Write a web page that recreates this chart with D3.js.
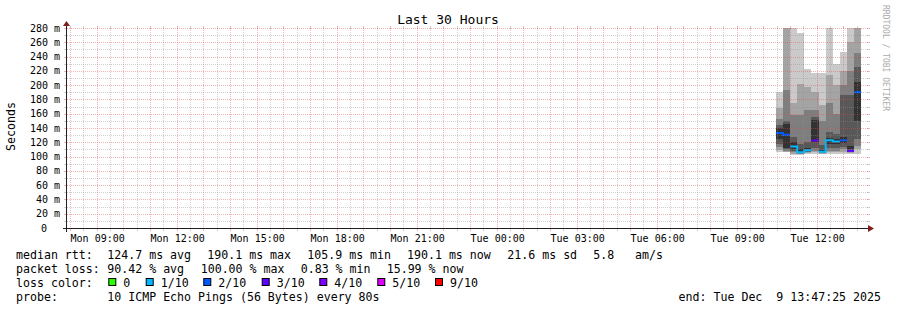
<!DOCTYPE html>
<html><head><meta charset="utf-8">
<script src="https://cdn.jsdelivr.net/npm/d3@7"></script>
<style>
html,body{margin:0;padding:0;background:#fff;}
svg{display:block;}
text{font-family:"DejaVu Sans Mono",monospace;fill:#000;}
</style>
</head><body>
<svg id="c" width="897" height="310"></svg>
<script>
// ---------------- data ----------------
const title = "Last 30 Hours";
const yLabel = "Seconds";
const watermark = "RRDTOOL / TOBI OETIKER";
const timeDomain = ["2025-12-08T07:51", "2025-12-09T13:51"];
const yDomain = [0, 280];
const yTicks = [0, 20, 40, 60, 80, 100, 120, 140, 160, 180, 200, 220, 240, 260, 280];
const yTickLabels = ["0", "20 m", "40 m", "60 m", "80 m", "100 m", "120 m", "140 m", "160 m", "180 m", "200 m", "220 m", "240 m", "260 m", "280 m"];
const xLabelTimes = ["2025-12-08T09:00", "2025-12-08T12:00", "2025-12-08T15:00", "2025-12-08T18:00", "2025-12-08T21:00",
                     "2025-12-09T00:00", "2025-12-09T03:00", "2025-12-09T06:00", "2025-12-09T09:00", "2025-12-09T12:00"];
const xLabels = ["Mon 09:00", "Mon 12:00", "Mon 15:00", "Mon 18:00", "Mon 21:00",
                 "Tue 00:00", "Tue 03:00", "Tue 06:00", "Tue 09:00", "Tue 12:00"];
// consolidated 16-minute steps (edges)
const stepEdges = ["2025-12-09T10:26", "2025-12-09T10:42", "2025-12-09T10:58", "2025-12-09T11:14", "2025-12-09T11:30",
                   "2025-12-09T11:46", "2025-12-09T12:02", "2025-12-09T12:18", "2025-12-09T12:34", "2025-12-09T12:50",
                   "2025-12-09T13:06", "2025-12-09T13:22", "2025-12-09T13:38"];
// sorted ping rtts per step (ms)
const ping1  = [106, 106, 102, 102, 104, 104, 103, 104, 104, 104, 103, 104];
const ping2  = [109, 107, 104, 103, 105, 106, 104, 106, 106, 107, 105, 110];
const ping3  = [113, 108, 106, 104, 106, 108, 105, 108, 108, 110, 107, 115];
const ping4  = [118, 110, 108, 105, 107, 112, 106, 112, 112, 114, 109, 125];
const ping5  = [124, 112, 110, 106, 108, 120, 106, 118, 117, 119, 111, 150];
const ping6  = [140, 145, 120, 110, 112, 151, 109, 126, 125, 127, 115, 205];
const ping7  = [144, 150, 128, 118, 120, 155, 116, 135, 132, 186, 186, 225];
const ping8  = [152, 193, 158, 158, 165, 165, 150, 175, 160, 200, 220, 245];
const ping9  = [168, 300, 175, 202, 198, 190, 172, 214, 200, 220, 260, 300];
const ping10 = [190, 300, 300, 273, 222, 217, 217, 300, 230, 247, 300, 300];
const medianRtt = [133, 130.6, 114, 105.9, 108.7, 122.5, 106.8, 123, 121, 122.7, 108, 190.1];
const lossCount = [2, 2, 1, 1, 1, 3, 1, 1, 1, 2, 3, 2];
const lossLevels = [0, 1, 2, 3, 4, 5, 9];
const lossLabels = ["0", "1/10", "2/10", "3/10", "4/10", "5/10", "9/10"];
const lossColors = ["#26ff00", "#00b8ff", "#0059ff", "#5e00ff", "#7e00ff", "#dd00ff", "#ff0000"];
const smokeColors = ["#cacaca", "#a4a4a4", "#7e7e7e", "#585858", "#323232"];
const legendRtt = [["median rtt:", 16], ["124.7 ms avg", 107.3], ["190.1 ms max", 207.3], ["105.9 ms min", 307.3],
                   ["190.1 ms now", 407], ["21.6 ms sd", 507.3], ["5.8", 593.3], ["am/s", 635]];
const legendLoss = [["packet loss:", 16], ["90.42 % avg", 107.3], ["100.00 % max", 200.7], ["0.83 % min", 300.7],
                    ["15.99 % now", 386.7]];
const legendProbe = [["probe:", 16], ["10 ICMP Echo Pings (56 Bytes) every 80s", 107.3]];
const endText = "end: Tue Dec  9 13:47:25 2025";

// ---------------- drawing ----------------
const svg = d3.select("#c");
const X0 = 67, X1 = 867, Y0 = 228, Y1 = 28;
const parse = d3.timeParse("%Y-%m-%dT%H:%M");
const x = d3.scaleTime().domain(timeDomain.map(parse)).range([X0, X1]);
const y = d3.scaleLinear().domain(yDomain).range([Y0, Y1]);

svg.append("rect").attr("width", 897).attr("height", 310).attr("fill", "#fff");

svg.append("defs").append("clipPath").attr("id", "plot")
  .append("rect").attr("x", X0).attr("y", Y1).attr("width", X1 - X0 + 1).attr("height", Y0 - Y1);

const pings = [ping1, ping2, ping3, ping4, ping5, ping6, ping7, ping8, ping9, ping10];
const edges = stepEdges.map(parse);
const g = svg.append("g").attr("clip-path", "url(#plot)");

// smoke bands: ping(i) .. ping(11-i)
for (let b = 0; b < 5; b++) {
  const lo = pings[b], hi = pings[9 - b];
  g.append("g").attr("shape-rendering", "crispEdges").selectAll("rect")
    .data(d3.range(lo.length))
    .join("rect")
    .attr("x", k => x(edges[k]))
    .attr("width", k => x(edges[k + 1]) - x(edges[k]))
    .attr("y", k => y(hi[k]))
    .attr("height", k => y(lo[k]) - y(hi[k]))
    .attr("fill", smokeColors[b]);
}

// median line, coloured by loss
lossLevels.forEach((lv, li) => {
  let runs = [], cur = null;
  medianRtt.forEach((v, k) => {
    if (lossCount[k] === lv) {
      if (!cur) { cur = []; runs.push(cur); }
      cur.push([x(edges[k]), y(v)], [x(edges[k + 1]), y(v)]);
    } else cur = null;
  });
  runs.forEach(r => {
    g.append("path").attr("d", d3.line()(r)).attr("fill", "none")
      .attr("stroke", lossColors[li]).attr("stroke-width", 2);
  });
});

// grid
const gridMinor = "rgba(143,143,143,0.42)", gridMajor = "rgba(222,79,79,0.42)";
const tmin = x.domain()[0], tmax = x.domain()[1];
const halfHours = d3.timeMinute.every(30).range(tmin, tmax).filter(t => t.getMinutes() !== 0);
const hours = d3.timeHour.every(1).range(tmin, tmax);
const px = t => Math.round(x(t)) - 0.5;
const grid = svg.append("g").attr("shape-rendering", "crispEdges");
function vgrid(list, col) {
  grid.append("g").selectAll("line").data(list).join("line")
    .attr("x1", px).attr("x2", px).attr("y1", Y1).attr("y2", Y0)
    .attr("stroke", col).attr("stroke-dasharray", "1,1");
  grid.append("g").selectAll("line").data(list).join("line")
    .attr("x1", px).attr("x2", px).attr("y1", Y0).attr("y2", Y0 + 3).attr("stroke", col);
  grid.append("g").selectAll("line").data(list).join("line")
    .attr("x1", px).attr("x2", px).attr("y1", Y1 - 2).attr("y2", Y1 + 1).attr("stroke", col);
}
vgrid(halfHours, gridMinor);
vgrid(hours, gridMajor);
const yMinor = y.ticks(28).filter(v => v % 20 !== 0);
const yMajor = yTicks.filter(v => v > 0);
function hgrid(list, col) {
  const py = v => Math.round(y(v)) + 0.5;
  grid.append("g").selectAll("line").data(list).join("line")
    .attr("x1", X0).attr("x2", X1 + 1).attr("y1", py).attr("y2", py)
    .attr("stroke", col).attr("stroke-dasharray", "1,1");
  grid.append("g").selectAll("line").data(list).join("line")
    .attr("x1", X0 - 3).attr("x2", X0).attr("y1", py).attr("y2", py).attr("stroke", col);
  grid.append("g").selectAll("line").data(list).join("line")
    .attr("x1", X1).attr("x2", X1 + 3).attr("y1", py).attr("y2", py).attr("stroke", col);
}
hgrid(yMinor, gridMinor);
hgrid(yMajor, gridMajor);

// axes
const axc = "#1f1f1f", arc = "#801f1f";
svg.append("line").attr("x1", X0 - 4).attr("x2", X1 + 2).attr("y1", Y0 + 0.5).attr("y2", Y0 + 0.5)
  .attr("stroke", axc).attr("shape-rendering", "crispEdges");
svg.append("line").attr("x1", X0 - 0.5).attr("x2", X0 - 0.5).attr("y1", Y0 + 4).attr("y2", Y1 - 4)
  .attr("stroke", axc).attr("shape-rendering", "crispEdges");
svg.append("path").attr("d", `M${X1 + 1},${Y0 - 3} L${X1 + 7},${Y0 + 0.5} L${X1 + 1},${Y0 + 4} Z`).attr("fill", arc);
svg.append("path").attr("d", `M${X0 - 4},${Y1 - 2} L${X0 - 0.5},${Y1 - 7} L${X0 + 3},${Y1 - 2} Z`).attr("fill", arc);

// y tick labels
svg.append("g").selectAll("text").data(yTicks).join("text")
  .attr("x", (v, i) => v === 0 ? 47 : 60)
  .attr("y", v => y(v) + 3.6)
  .attr("text-anchor", "end").attr("font-size", "10px")
  .text((v, i) => yTickLabels[i]);

// x labels
svg.append("g").selectAll("text").data(xLabelTimes).join("text")
  .attr("x", t => x(parse(t)))
  .attr("y", 241.5)
  .attr("text-anchor", "middle").attr("font-size", "10px")
  .text((t, i) => xLabels[i]);

// title
svg.append("text").attr("x", 448).attr("y", 24).attr("text-anchor", "middle")
  .attr("font-size", "13px").text(title);

// y axis label
svg.append("text").attr("transform", "translate(15,126.5) rotate(-90)")
  .attr("text-anchor", "middle").attr("font-size", "11.6px").text(yLabel);

// watermark
svg.append("text").attr("transform", "translate(883,5) rotate(90)")
  .attr("font-size", "8px").style("fill", "#aaaaaa").text(watermark);

// legend
function chunks(list, by) {
  svg.append("g").selectAll("text").data(list).join("text")
    .attr("x", d => d[1]).attr("y", by).attr("font-size", "11.6px")
    .attr("xml:space", "preserve").style("white-space", "pre")
    .text(d => d[0]);
}
chunks(legendRtt, 258.5);
chunks(legendLoss, 272.5);
chunks([["loss color:", 16]], 286.5);
chunks(legendProbe, 300.5);
const boxX = [108.3, 145.7, 203.3, 261.7, 319.3, 377.3, 435];
lossLabels.forEach((lb, i) => {
  svg.append("rect").attr("x", boxX[i] + 0.5).attr("y", 278.5).attr("width", 7).attr("height", 7)
    .attr("fill", lossColors[i]).attr("stroke", "#000").attr("stroke-width", 1);
  svg.append("text").attr("x", boxX[i] + 15).attr("y", 286.5).attr("font-size", "11.6px").text(lb);
});
svg.append("text").attr("x", 881).attr("y", 300.5).attr("text-anchor", "end")
  .attr("font-size", "11.6px").attr("xml:space", "preserve").style("white-space", "pre").text(endText);
</script>
</body></html>
